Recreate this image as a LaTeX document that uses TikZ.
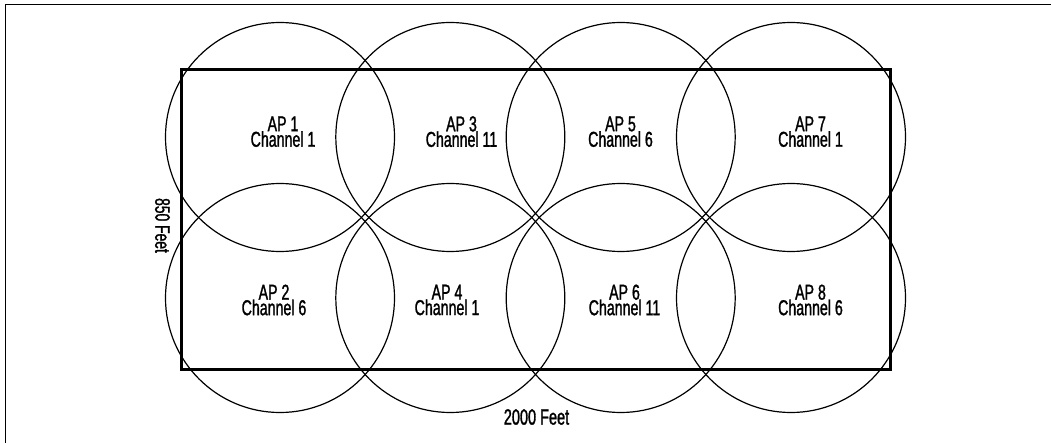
\documentclass[tikz,border=0pt]{standalone}
\usepackage{fontspec}
\setmainfont[FakeStretch=0.66,FakeBold=1.3]{Liberation Sans}
\begin{document}
\begin{tikzpicture}[x=1pt,y=-1pt,
  frame/.style={line width=1.4pt},
  building/.style={line width=2.8pt,line join=miter},
  cov/.style={circle,draw,line width=1.2pt,minimum size=229pt,inner sep=0pt},
  aplabel/.style={align=center,inner sep=0pt,
    font={\fontsize{21.5}{15.5}\selectfont\lineskiplimit=-30pt}},
  dimlabel/.style={inner sep=0pt,font={\fontsize{22}{22}\selectfont}}]
\useasboundingbox (0,0) rectangle (1051,443);
\draw[frame] (5.5,443) -- (5.5,4.7) -- (1051,4.7);
% coverage circles
\node[cov] (c1) at (280,137) {};
\node[cov] (c3) at (450.3,137) {};
\node[cov] (c5) at (620.7,137) {};
\node[cov] (c7) at (791,137) {};
\node[cov] (c2) at (280,298) {};
\node[cov] (c4) at (450.3,298) {};
\node[cov] (c6) at (620.7,298) {};
\node[cov] (c8) at (791,298) {};
% building outline
\coordinate (nw) at (181.5,69.7);
\coordinate (se) at (890.5,369.3);
\draw[building] (nw) rectangle (se);
% labels
\node[aplabel] (l1) at (283,131.7) {AP 1\\Channel 1};
\node[aplabel] (l3) at (461.5,131.7) {AP 3\\Channel 11};
\node[aplabel] (l5) at (620.5,131.7) {AP 5\\Channel 6};
\node[aplabel] (l7) at (810.5,131.7) {AP 7\\Channel 1};
\node[aplabel] (l2) at (274,300) {AP 2\\Channel 6};
\node[aplabel] (l4) at (447,300) {AP 4\\Channel 1};
\node[aplabel] (l6) at (624.5,300) {AP 6\\Channel 11};
\node[aplabel] (l8) at (810.5,300) {AP 8\\Channel 6};
\node[dimlabel] (w) at (536.5,417) {2000 Feet};
\node[dimlabel,rotate=-90,font={\fontsize{21}{21}\selectfont}] (h) at (162.5,225.5) {850 Feet};
\end{tikzpicture}
\end{document}
